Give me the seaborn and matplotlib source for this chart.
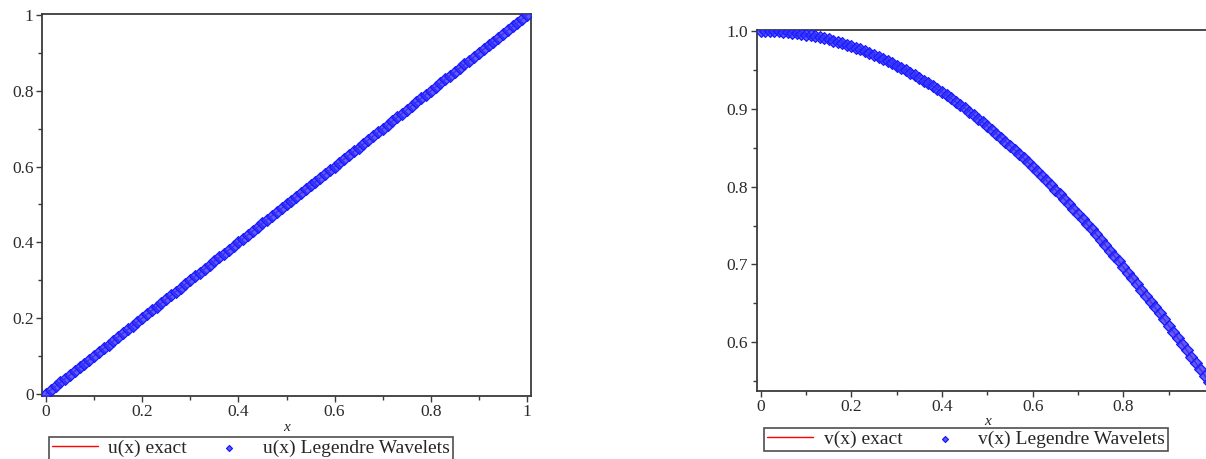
import matplotlib
matplotlib.use("Agg")
import matplotlib.pyplot as plt
import seaborn as sns
import pandas as pd

# ---- data ----
x_pts = [0.00, 0.01, 0.02, 0.03, 0.04, 0.05, 0.06, 0.07, 0.08, 0.09,
         0.10, 0.11, 0.12, 0.13, 0.14, 0.15, 0.16, 0.17, 0.18, 0.19,
         0.20, 0.21, 0.22, 0.23, 0.24, 0.25, 0.26, 0.27, 0.28, 0.29,
         0.30, 0.31, 0.32, 0.33, 0.34, 0.35, 0.36, 0.37, 0.38, 0.39,
         0.40, 0.41, 0.42, 0.43, 0.44, 0.45, 0.46, 0.47, 0.48, 0.49,
         0.50, 0.51, 0.52, 0.53, 0.54, 0.55, 0.56, 0.57, 0.58, 0.59,
         0.60, 0.61, 0.62, 0.63, 0.64, 0.65, 0.66, 0.67, 0.68, 0.69,
         0.70, 0.71, 0.72, 0.73, 0.74, 0.75, 0.76, 0.77, 0.78, 0.79,
         0.80, 0.81, 0.82, 0.83, 0.84, 0.85, 0.86, 0.87, 0.88, 0.89,
         0.90, 0.91, 0.92, 0.93, 0.94, 0.95, 0.96, 0.97, 0.98, 0.99, 1.00]

u_vals = [0.00, 0.01, 0.02, 0.03, 0.04, 0.05, 0.06, 0.07, 0.08, 0.09,
          0.10, 0.11, 0.12, 0.13, 0.14, 0.15, 0.16, 0.17, 0.18, 0.19,
          0.20, 0.21, 0.22, 0.23, 0.24, 0.25, 0.26, 0.27, 0.28, 0.29,
          0.30, 0.31, 0.32, 0.33, 0.34, 0.35, 0.36, 0.37, 0.38, 0.39,
          0.40, 0.41, 0.42, 0.43, 0.44, 0.45, 0.46, 0.47, 0.48, 0.49,
          0.50, 0.51, 0.52, 0.53, 0.54, 0.55, 0.56, 0.57, 0.58, 0.59,
          0.60, 0.61, 0.62, 0.63, 0.64, 0.65, 0.66, 0.67, 0.68, 0.69,
          0.70, 0.71, 0.72, 0.73, 0.74, 0.75, 0.76, 0.77, 0.78, 0.79,
          0.80, 0.81, 0.82, 0.83, 0.84, 0.85, 0.86, 0.87, 0.88, 0.89,
          0.90, 0.91, 0.92, 0.93, 0.94, 0.95, 0.96, 0.97, 0.98, 0.99, 1.00]

v_vals = [1.0000, 0.99995, 0.9998, 0.99955, 0.9992, 0.99875, 0.9982, 0.99755, 0.9968, 0.99595,
          0.99500, 0.99396, 0.99281, 0.99156, 0.99022, 0.98877, 0.98723, 0.98558, 0.98384, 0.98200,
          0.98007, 0.97803, 0.97590, 0.97367, 0.97134, 0.96891, 0.96639, 0.96377, 0.96106, 0.95824,
          0.95534, 0.95233, 0.94924, 0.94604, 0.94275, 0.93937, 0.93590, 0.93233, 0.92866, 0.92491,
          0.92106, 0.91712, 0.91309, 0.90897, 0.90475, 0.90045, 0.89605, 0.89157, 0.88699, 0.88233,
          0.87758, 0.87274, 0.86782, 0.86281, 0.85771, 0.85252, 0.84726, 0.84190, 0.83646, 0.83094,
          0.82534, 0.81965, 0.81388, 0.80803, 0.80210, 0.79608, 0.78999, 0.78382, 0.77757, 0.77125,
          0.76484, 0.75836, 0.75181, 0.74517, 0.73847, 0.73169, 0.72484, 0.71791, 0.71091, 0.70385,
          0.69671, 0.68950, 0.68222, 0.67488, 0.66746, 0.65998, 0.65244, 0.64483, 0.63715, 0.62941,
          0.62161, 0.61375, 0.60582, 0.59783, 0.58979, 0.58168, 0.57352, 0.56530, 0.55702, 0.54869, 0.54030]

left_xticks = [0, 0.2, 0.4, 0.6, 0.8, 1]
left_xticklabels = ["0", "0.2", "0.4", "0.6", "0.8", "1"]
left_yticks = [0, 0.2, 0.4, 0.6, 0.8, 1]
left_yticklabels = ["0", "0.2", "0.4", "0.6", "0.8", "1"]
right_xticks = [0, 0.2, 0.4, 0.6, 0.8]
right_xticklabels = ["0", "0.2", "0.4", "0.6", "0.8"]
right_yticks = [0.6, 0.7, 0.8, 0.9, 1.0]
right_yticklabels = ["0.6", "0.7", "0.8", "0.9", "1.0"]

labels_u = ["u(x) exact", "u(x) Legendre Wavelets"]
labels_v = ["v(x) exact", "v(x) Legendre Wavelets"]

df_u = pd.DataFrame({"x": x_pts, "y": u_vals})
df_v = pd.DataFrame({"x": x_pts, "y": v_vals})

# ---- style ----
sns.set_style("white")
plt.rcParams["font.family"] = ["Liberation Serif", "DejaVu Serif"]

W, H = 1206, 459
fig = plt.figure(figsize=(W / 100, H / 100), dpi=100)

def px_axes(x0, x1, ytop, ybot):
    return fig.add_axes([x0 / W, 1 - ybot / H, (x1 - x0) / W, (ybot - ytop) / H])

ax1 = px_axes(42, 531, 14.3, 395.7)
ax2 = px_axes(756.7, 1218, 29.7, 390.7)

spine_col = "#3a3a3a"
tick_col = "#2b2b2b"

def draw(ax, df, labels):
    sns.lineplot(data=df, x="x", y="y", ax=ax, color="red", linewidth=1.0,
                 label=labels[0], zorder=2, sort=False)
    sns.scatterplot(data=df, x="x", y="y", ax=ax, marker="D", s=36,
                    facecolors=(0.2, 0.2, 1.0, 0.8), edgecolor="#1a1aff",
                    linewidth=0.9, label=labels[1], zorder=3)
    ax.set_xlabel("x", fontstyle="italic", fontsize=11)
    ax.set_ylabel("")
    for s in ax.spines.values():
        s.set_color(spine_col)
        s.set_linewidth(1.3)
        s.set_visible(True)
    ax.tick_params(axis="both", which="major", direction="out", length=4, width=1,
                   color=spine_col, labelcolor=tick_col, labelsize=12.5, pad=2,
                   left=True, bottom=True)
    ax.tick_params(axis="both", which="minor", direction="out", length=3, width=1,
                   color=spine_col, left=True, bottom=True)
    ax.get_legend().remove()

draw(ax1, df_u, labels_u)
draw(ax2, df_v, labels_v)

ax1.set_xlim(-0.0083, 1.0083)
ax1.set_ylim(-0.005, 1.002)
ax1.set_xticks(left_xticks)
ax1.set_xticklabels(left_xticklabels)
ax1.set_yticks(left_yticks)
ax1.set_yticklabels(left_yticklabels)
ax1.set_xticks([0.1, 0.3, 0.5, 0.7, 0.9], minor=True)
ax1.set_yticks([0.1, 0.3, 0.5, 0.7, 0.9], minor=True)
ax1.xaxis.labelpad = 1

ax2.set_xlim(-0.0088, 1.0088)
ax2.set_ylim(0.538, 1.0013)
ax2.set_xticks(right_xticks)
ax2.set_xticklabels(right_xticklabels)
ax2.set_yticks(right_yticks)
ax2.set_yticklabels(right_yticklabels)
ax2.set_xticks([0.1, 0.3, 0.5, 0.7, 0.9], minor=True)
ax2.set_yticks([0.55, 0.65, 0.75, 0.85, 0.95], minor=True)
ax2.xaxis.labelpad = 0

def add_legend(ax, anchor):
    h, l = ax.get_legend_handles_labels()
    leg = fig.legend(h, l, loc="upper left", bbox_to_anchor=anchor,
                     bbox_transform=fig.transFigure, ncol=2, frameon=True,
                     fancybox=False, edgecolor="#222222", fontsize=14,
                     handlelength=2.35, handletextpad=0.55, columnspacing=1.0,
                     borderpad=0.15, borderaxespad=0, markerscale=0.5)
    leg.get_frame().set_linewidth(1.2)
    return leg

add_legend(ax1, (49 / W, 1 - 436.7 / H))
add_legend(ax2, (764.3 / W, 1 - 427.7 / H))

fig.savefig("out.png", dpi=100)
